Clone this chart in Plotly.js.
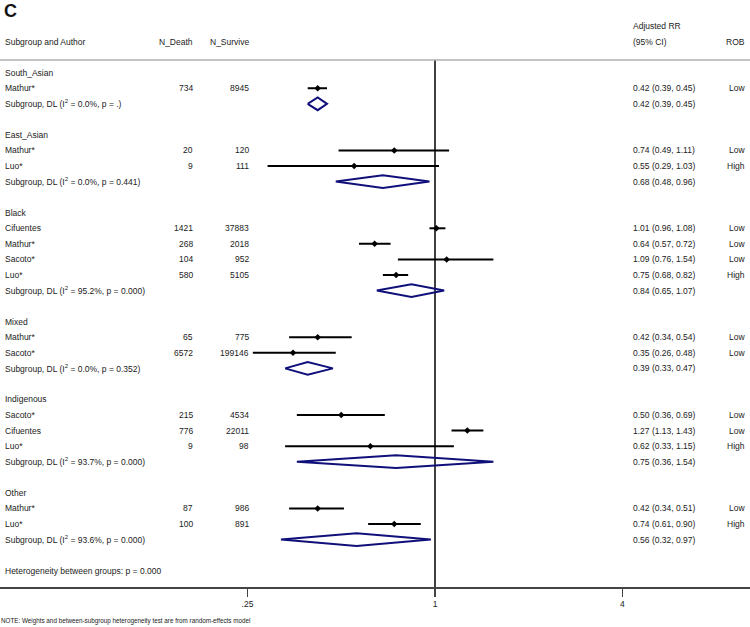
<!DOCTYPE html>
<html>
<head>
<meta charset="utf-8">
<script src="https://cdn.plot.ly/plotly-3.0.1.min.js"></script>
<style>html,body{margin:0;padding:0;background:#fff}#chart{width:750px;height:627px}</style>
</head>
<body>
<div id="chart"></div>
<script>
// ---- data ----
var groups = ['South_Asian', 'East_Asian', 'Black', 'Mixed', 'Indigenous', 'Other'];
var studyGroup = ['South_Asian', 'East_Asian', 'East_Asian', 'Black', 'Black', 'Black', 'Black', 'Mixed', 'Mixed', 'Indigenous', 'Indigenous', 'Indigenous', 'Other', 'Other'];
var studyAuthor = ['Mathur*', 'Mathur*', 'Luo*', 'Cifuentes', 'Mathur*', 'Sacoto*', 'Luo*', 'Mathur*', 'Sacoto*', 'Sacoto*', 'Cifuentes', 'Luo*', 'Mathur*', 'Luo*'];
var nDeath = [734, 20, 9, 1421, 268, 104, 580, 65, 6572, 215, 776, 9, 87, 100];
var nSurvive = [8945, 120, 111, 37883, 2018, 952, 5105, 775, 199146, 4534, 22011, 98, 986, 891];
var studyRR = [0.42, 0.74, 0.55, 1.01, 0.64, 1.09, 0.75, 0.42, 0.35, 0.50, 1.27, 0.62, 0.42, 0.74];
var studyLo = [0.39, 0.49, 0.29, 0.96, 0.57, 0.76, 0.68, 0.34, 0.26, 0.36, 1.13, 0.33, 0.34, 0.61];
var studyHi = [0.45, 1.11, 1.03, 1.08, 0.72, 1.54, 0.82, 0.54, 0.48, 0.69, 1.43, 1.15, 0.51, 0.90];
var studyROB = ['Low', 'Low', 'High', 'Low', 'Low', 'Low', 'High', 'Low', 'Low', 'Low', 'Low', 'High', 'Low', 'High'];
var subRR = [0.42, 0.68, 0.84, 0.39, 0.75, 0.56];
var subLo = [0.39, 0.48, 0.65, 0.33, 0.36, 0.32];
var subHi = [0.45, 0.96, 1.07, 0.47, 1.54, 0.97];
var subI2 = ['0.0', '0.0', '95.2', '0.0', '93.7', '93.6'];
var subP = ['.', '0.441', '0.000', '0.352', '0.000', '0.000'];
var betweenP = '0.000';
var tickVals = [0.25, 1, 4];
var tickText = ['.25', '1', '4'];

// ---- layout helpers ----
var W = 750;
var TXT = '#222';
var FS = 8.5;
var FONT = 'Liberation Sans, Arial, sans-serif';
function px(x) { return x / W; }
function fmt(v) { return v.toFixed(2); }

var annotations = [];
function addText(text, xpx, row, anchor, opts) {
  var a = {
    text: text, xref: 'paper', yref: 'y', x: px(xpx), y: row,
    xanchor: anchor, yanchor: 'middle', showarrow: false,
    borderpad: 0, borderwidth: 0,
    font: {family: FONT, size: FS, color: TXT}
  };
  if (opts) for (var k in opts) a[k] = opts[k];
  annotations.push(a);
}

var COL_LABEL = 5, COL_ND = 193, COL_NS = 249, COL_RR = 632.5, COL_ROB = 745;

// headers
addText('Adjusted RR', COL_RR, -3, 'left');
addText('Subgroup and Author', COL_LABEL, -2, 'left');
addText('N_Death', COL_ND, -2, 'right');
addText('N_Survive', COL_NS, -2, 'right');
addText('(95% CI)', COL_RR, -2, 'left');
addText('ROB', COL_ROB, -2, 'right');
addText('<b>C</b>', 4, -3.95, 'left', {font: {family: FONT, size: 18, color: '#111'}});

var traces = [];
var row = 0;
var ciX = [], ciY = [], ptX = [], ptY = [];
groups.forEach(function (g, gi) {
  addText(g, COL_LABEL, row, 'left');
  row++;
  for (var i = 0; i < studyGroup.length; i++) {
    if (studyGroup[i] !== g) continue;
    addText(studyAuthor[i], COL_LABEL, row, 'left');
    addText(String(nDeath[i]), COL_ND, row, 'right');
    addText(String(nSurvive[i]), COL_NS, row, 'right');
    addText(fmt(studyRR[i]) + ' (' + fmt(studyLo[i]) + ', ' + fmt(studyHi[i]) + ')', COL_RR, row, 'left');
    addText(studyROB[i], COL_ROB, row, 'right');
    ciX.push(studyLo[i], studyHi[i], null);
    ciY.push(row, row, null);
    ptX.push(studyRR[i]);
    ptY.push(row);
    row++;
  }
  addText('Subgroup, DL (I<sup>2</sup> = ' + subI2[gi] + '%, p = ' + subP[gi] + ')', COL_LABEL, row, 'left');
  addText(fmt(subRR[gi]) + ' (' + fmt(subLo[gi]) + ', ' + fmt(subHi[gi]) + ')', COL_RR, row, 'left');
  var h = 0.41;
  traces.push({
    type: 'scatter', mode: 'lines', hoverinfo: 'skip', showlegend: false,
    x: [subLo[gi], subRR[gi], subHi[gi], subRR[gi], subLo[gi]],
    y: [row, row - h, row, row + h, row],
    line: {color: '#10107a', width: 2}
  });
  row += 2;
});
addText('Heterogeneity between groups: p = ' + betweenP, COL_LABEL, row, 'left');
var lastRow = row;

// study CI lines and points
traces.unshift({
  type: 'scatter', mode: 'lines', hoverinfo: 'skip', showlegend: false,
  x: ciX, y: ciY, line: {color: '#000', width: 2}
});
traces.push({
  type: 'scatter', mode: 'markers', hoverinfo: 'skip', showlegend: false,
  x: ptX, y: ptY, marker: {symbol: 'diamond', size: 5, color: '#000'}
});
// null line at 1
var yTop = -0.83, yBot = 33.05;
traces.unshift({
  type: 'scatter', mode: 'lines', hoverinfo: 'skip', showlegend: false,
  x: [1, 1], y: [yTop, yBot], line: {color: '#000', width: 1.5}
});

annotations.push({
  text: 'NOTE: Weights and between-subgroup heterogeneity test are from random-effects model',
  xref: 'paper', yref: 'paper', x: 0.001, y: -34 / 587, xanchor: 'left', yanchor: 'middle',
  showarrow: false, borderpad: 0, borderwidth: 0,
  font: {family: FONT, size: 6.3, color: TXT}
});

var layout = {
  width: 750, height: 627,
  margin: {l: 0, r: 0, t: 0, b: 40, pad: 0},
  paper_bgcolor: '#fff', plot_bgcolor: '#fff',
  showlegend: false,
  font: {family: FONT, size: FS, color: TXT},
  xaxis: {
    type: 'log', range: [-1.397, 1.0116],
    tickvals: tickVals, ticktext: tickText,
    ticks: 'outside', ticklen: 8, tickwidth: 1.5, tickcolor: '#444',
    showline: true, linecolor: '#444', linewidth: 2,
    showgrid: false, zeroline: false, fixedrange: true,
    tickfont: {family: FONT, size: FS, color: TXT}
  },
  yaxis: {
    range: [yBot, -4.67], visible: false, showgrid: false, zeroline: false, fixedrange: true
  },
  shapes: [{
    type: 'line', xref: 'paper', yref: 'y', x0: 0, x1: 1, y0: yTop + 0.02, y1: yTop + 0.02,
    line: {color: '#b0b0b0', width: 1.5}
  }],
  annotations: annotations
};

Plotly.newPlot('chart', traces, layout, {displayModeBar: false, staticPlot: true});
</script>
</body>
</html>
